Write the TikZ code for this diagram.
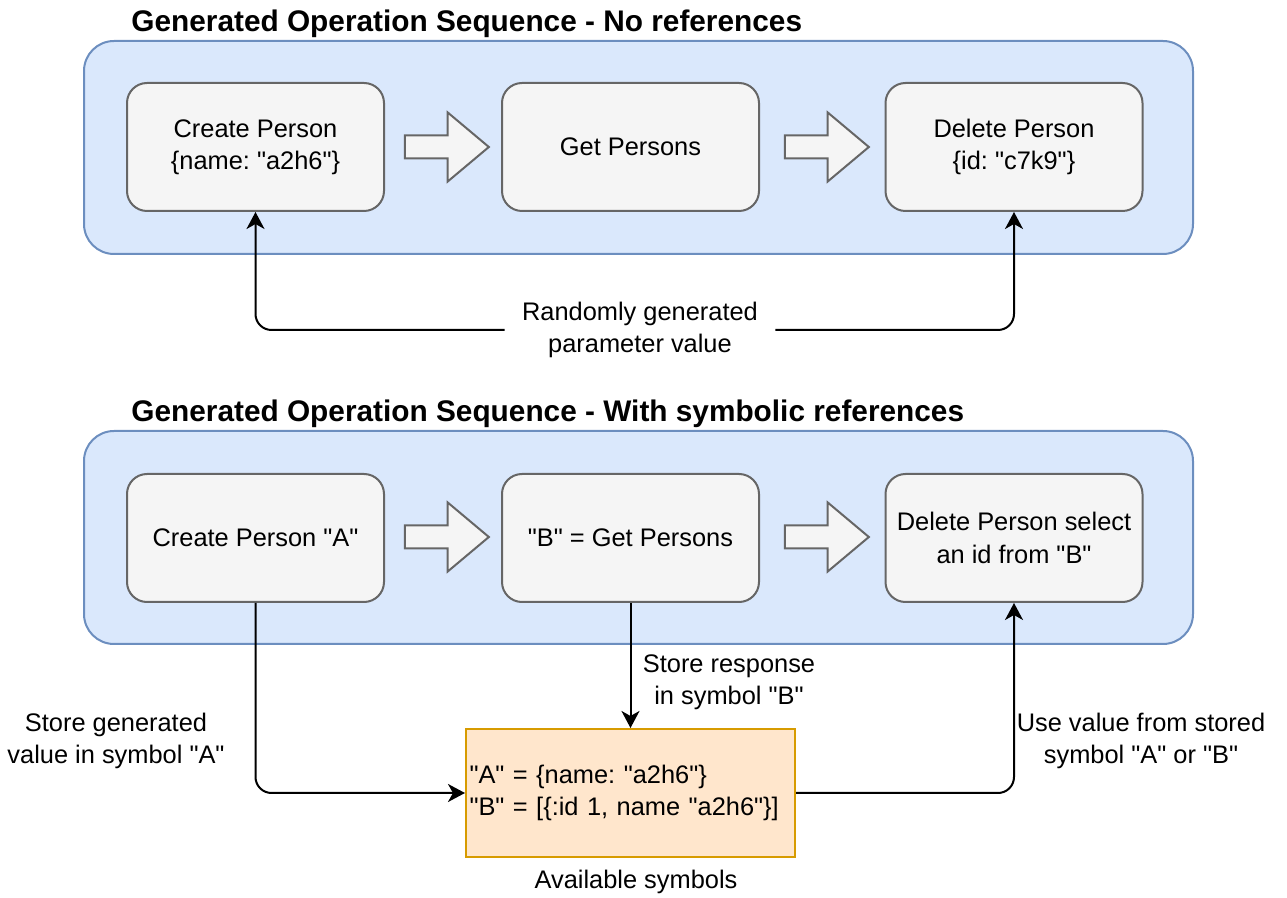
\documentclass[tikz,border=0pt]{standalone}
\usepackage{fontspec}
\setmainfont{Liberation Sans}[Ligatures=TeXOff]
\usetikzlibrary{arrows.meta}
\usetikzlibrary{shapes.arrows}
\frenchspacing

\definecolor{panelfill}{HTML}{DAE8FC}
\definecolor{paneldraw}{HTML}{6C8EBF}
\definecolor{opfill}{HTML}{F5F5F5}
\definecolor{opdraw}{HTML}{666666}
\definecolor{symfill}{HTML}{FFE6CC}
\definecolor{symdraw}{HTML}{D79B00}

\newcommand{\bodytext}{\fontsize{12.7}{16.2}\selectfont}
\newcommand{\headtext}{\fontsize{14.9}{18}\selectfont\bfseries}

\tikzset{
	panel/.style={draw=paneldraw, fill=panelfill, line width=1pt, rounded corners=15pt,
		minimum width=554.5pt, minimum height=106.5pt},
	opbox/.style={draw=opdraw, fill=opfill, line width=1pt, rounded corners=10pt,
		minimum width=128.5pt, minimum height=64pt, align=center, font=\bodytext},
	flow/.style={single arrow, draw=opdraw, fill=opfill, line width=1pt, inner xsep=0pt,
		inner ysep=5.25pt, minimum height=42pt, single arrow head extend=11.5pt,
		single arrow tip angle=80},
	conn/.style={line width=1pt, rounded corners=8pt, >={Stealth[length=8.5pt, width=9pt, inset=2.5pt]}},
	lbl/.style={align=center, font=\bodytext, inner sep=1pt},
	heading/.style={anchor=west, inner sep=0pt, font=\headtext}
}

\begin{document}
\begin{tikzpicture}[x=0.5pt, y=-0.5pt]
	\useasboundingbox (0,0) rectangle (1287,898);

	% no references
	\node[heading] (t1) at (131,24) {Generated Operation Sequence - No references};
	\node[panel] (p1) at (638.5,147.5) {};
	\node[opbox] (a1) at (255.5,147) {Create Person\\\{name: "a2h6"\}};
	\node[opbox] (a2) at (630.5,147) {Get Persons};
	\node[opbox] (a3) at (1014,147) {Delete Person\\\{id: "c7k9"\}};
	\node[flow] (f1) at (440,147) {};
	\node[flow] (f2) at (820,147) {};

	\node[lbl, inner xsep=8.5pt] (rnd) at (640,330) {Randomly generated\\parameter value};
	\draw[conn,->] (rnd.west) -| (a1.south);
	\draw[conn,->] (rnd.east) -| (a3.south);

	% symbolic references
	\node[heading] (t2) at (131,414) {Generated Operation Sequence - With symbolic references};
	\node[panel] (p2) at (638.5,537.5) {};
	\node[opbox] (b1) at (255.5,538) {Create Person "A"};
	\node[opbox] (b2) at (630.5,538) {"B" = Get Persons};
	\node[opbox] (b3) at (1014,538) {Delete Person select\\an id from "B"};
	\node[flow] (f3) at (440,537) {};
	\node[flow] (f4) at (820,537) {};

	\node[draw=symdraw, fill=symfill, line width=1pt, minimum width=164.5pt, minimum height=64pt,
		text width=161pt, inner xsep=1.5pt, align=left, font=\bodytext] (sym) at (630.5,793)
		{"A" = \{name: "a2h6"\}\\"B" = [\{:id 1, name "a2h6"\}]};
	\node[lbl] (avail) at (636,882) {Available symbols};

	\draw[conn,->] (b1.south) |- (sym.west);
	\draw[conn,->] (b2.south) -- (sym.north);
	\draw[conn,->] (sym.east) -| (b3.south);

	\node[lbl] (stA) at (116,741) {Store generated\\value in symbol "A"};
	\node[lbl] (stB) at (729,682) {Store response\\in symbol "B"};
	\node[lbl] (use) at (1141,741) {Use value from stored\\symbol "A" or "B"};
\end{tikzpicture}
\end{document}
